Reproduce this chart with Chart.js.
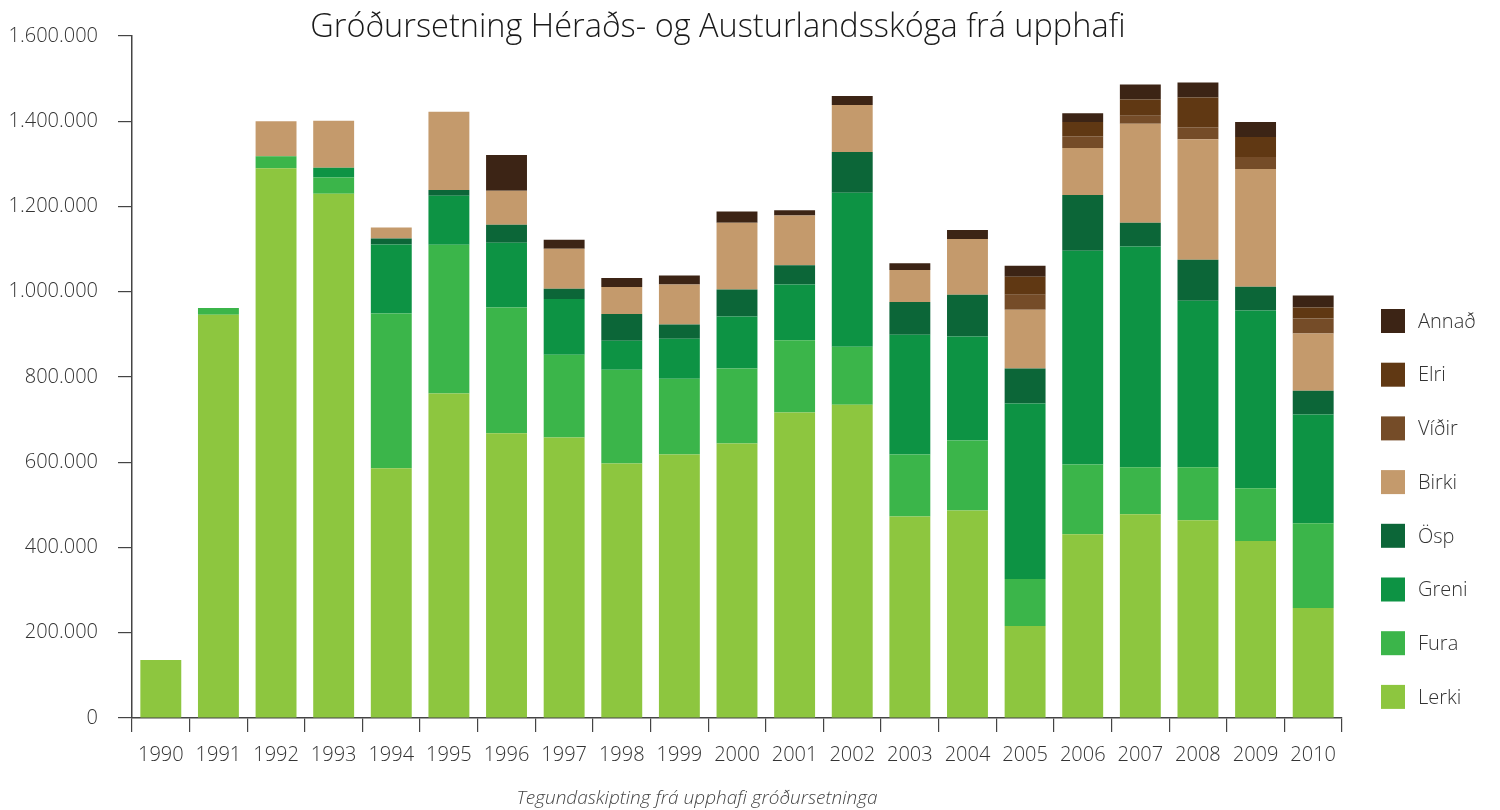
<!DOCTYPE html>
<html>
<head>
<meta charset="utf-8">
<script src="https://cdn.jsdelivr.net/npm/chart.js@4"></script>
<style>
  body { margin: 0; background: #fff; }
  canvas { display: block; }
</style>
</head>
<body>
<canvas id="plantChart" width="1500" height="810"></canvas>
<script>
const years = ['1990', '1991', '1992', '1993', '1994', '1995', '1996', '1997', '1998', '1999', '2000',
               '2001', '2002', '2003', '2004', '2005', '2006', '2007', '2008', '2009', '2010'];

// plantur á ári eftir tegundum (lesið af myndinni)
const lerki = [136000, 946000, 1290000, 1230000, 586000, 761000, 668000, 658000, 597000, 618000, 644000,
               717000, 735000, 473000, 487000, 216000, 431000, 478000, 464000, 415000, 258000];
const fura  = [0, 16000, 28000, 38000, 363000, 349000, 295000, 194000, 220000, 178000, 176000,
               169000, 136000, 145000, 164000, 110000, 164000, 110000, 124000, 124000, 199000];
const greni = [0, 0, 0, 23000, 162000, 115000, 152000, 131000, 68000, 94000, 122000,
               131000, 361000, 281000, 244000, 412000, 501000, 518000, 391000, 417000, 255000];
const osp   = [0, 0, 0, 0, 14000, 14000, 42000, 24000, 63000, 33000, 63000,
               45000, 96000, 77000, 98000, 82000, 131000, 56000, 96000, 56000, 56000];
const birki = [0, 0, 82000, 110000, 26000, 183000, 80000, 94000, 63000, 94000, 157000,
               117000, 110000, 75000, 131000, 138000, 110000, 232000, 283000, 276000, 134000];
const vidir = [0, 0, 0, 0, 0, 0, 0, 0, 0, 0, 0,
               0, 0, 0, 0, 35000, 28000, 19000, 28000, 28000, 35000];
const elri  = [0, 0, 0, 0, 0, 0, 0, 0, 0, 0, 0,
               0, 0, 0, 0, 42000, 33000, 38000, 70000, 47000, 26000];
const annad = [0, 0, 0, 0, 0, 0, 84000, 21000, 21000, 21000, 26000,
               12000, 21000, 16000, 21000, 26000, 21000, 35000, 35000, 35000, 28000];

const seriesNames = ['Lerki', 'Fura', 'Greni', 'Ösp', 'Birki', 'Víðir', 'Elri', 'Annað'];
const seriesData = [lerki, fura, greni, osp, birki, vidir, elri, annad];
const seriesColors = ['#8dc63f', '#3bb54a', '#0d9344', '#0c6638', '#c49a6c', '#754c28', '#603813', '#3c2415'];

const yTicks = [0, 200000, 400000, 600000, 800000, 1000000, 1200000, 1400000, 1600000];

const FONT = '"Open Sans", "Noto Sans", sans-serif';
const textColor = '#333';

function fmt(v) {
    return String(v).replace(/\B(?=(\d{3})+(?!\d))/g, '.');
}

// titill, undirtexti og skýringar teiknað beint á strigann
const decorPlugin = {
    id: 'decor',
    afterDraw(chart) {
        const ctx = chart.ctx;
        ctx.save();
        ctx.fillStyle = '#1a1a1a';
        ctx.font = '300 32.5px ' + FONT;
        ctx.textAlign = 'center';
        ctx.textBaseline = 'alphabetic';
        ctx.fillText('Gróðursetning Héraðs- og Austurlandsskóga frá upphafi', 718, 37);

        ctx.fillStyle = '#444';
        ctx.font = 'italic 300 19px ' + FONT;
        ctx.fillText('Tegundaskipting frá upphafi gróðursetninga', 697, 804);

        // skýringar, öfug röð
        ctx.textAlign = 'left';
        ctx.textBaseline = 'middle';
        ctx.font = '300 20px ' + FONT;
        const n = seriesNames.length;
        for (let i = 0; i < n; i++) {
            const idx = n - 1 - i;
            const cy = 321 + i * 53.7;
            ctx.fillStyle = seriesColors[idx];
            ctx.fillRect(1381, cy - 12, 24, 24);
            ctx.fillStyle = textColor;
            ctx.fillText(seriesNames[idx], 1418, cy + 1);
        }
        ctx.restore();
    }
};

const ctx = document.getElementById('plantChart').getContext('2d');

new Chart(ctx, {
    type: 'bar',
    data: {
        labels: years,
        datasets: seriesNames.map((name, i) => ({
            label: name,
            data: seriesData[i],
            backgroundColor: seriesColors[i],
            borderWidth: 0,
            categoryPercentage: 1,
            barPercentage: 0.71
        }))
    },
    options: {
        responsive: false,
        animation: false,
        layout: {
            padding: { top: 36, right: 158, bottom: 0, left: 0 }
        },
        plugins: {
            legend: { display: false },
            title: { display: false },
            tooltip: { enabled: false }
        },
        scales: {
            x: {
                stacked: true,
                afterFit: (scale) => { scale.height = 92; },
                grid: {
                    offset: true,
                    drawOnChartArea: false,
                    drawTicks: true,
                    tickLength: 14,
                    color: '#444',
                    lineWidth: 1.2
                },
                border: { display: true, color: '#444', width: 1.5 },
                ticks: {
                    color: textColor,
                    padding: 11,
                    maxRotation: 0,
                    autoSkip: false,
                    font: { family: FONT, size: 20, weight: '300' }
                }
            },
            y: {
                stacked: true,
                min: 0,
                max: 1600000,
                afterFit: (scale) => { scale.width = 132; },
                afterBuildTicks: (scale) => {
                    scale.ticks = yTicks.map(v => ({ value: v }));
                },
                grid: {
                    drawOnChartArea: false,
                    drawTicks: true,
                    tickLength: 14,
                    color: '#444',
                    lineWidth: 1.2
                },
                border: { display: true, color: '#444', width: 1.5 },
                ticks: {
                    color: textColor,
                    padding: 20,
                    callback: (v) => fmt(v),
                    font: { family: FONT, size: 20, weight: '300' }
                }
            }
        }
    },
    plugins: [decorPlugin]
});
</script>
</body>
</html>
